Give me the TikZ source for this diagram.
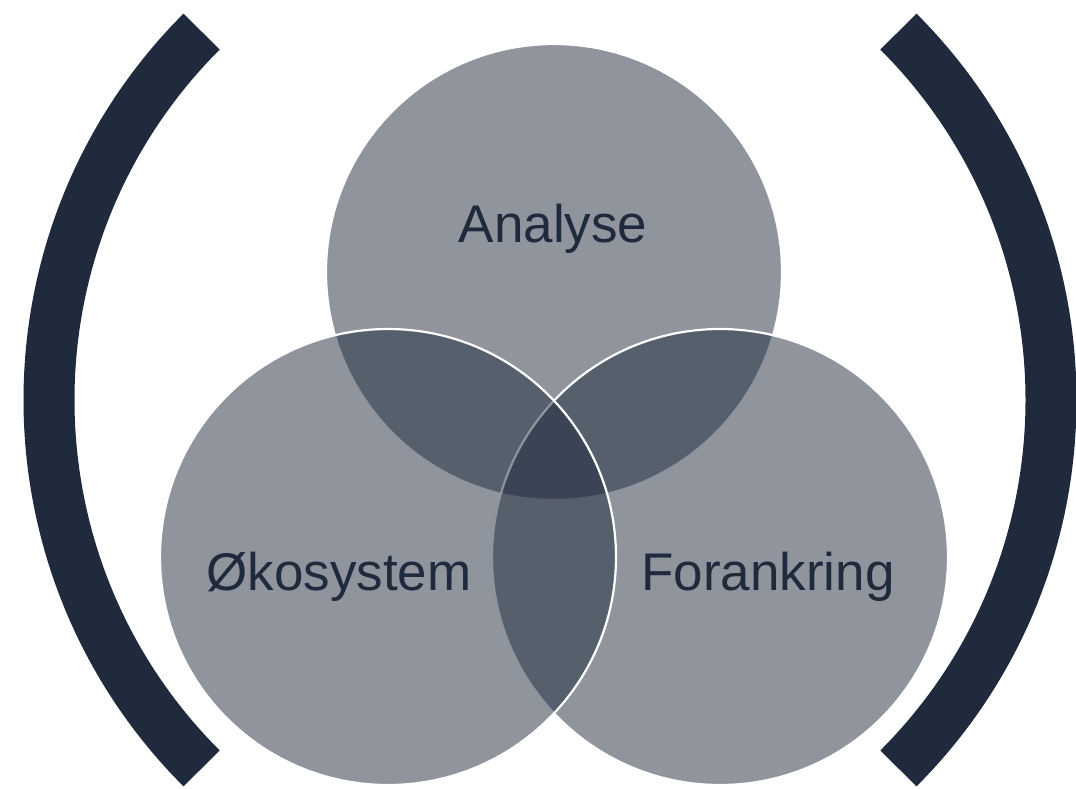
\documentclass[tikz,border=0pt]{standalone}
\usepackage{fontspec}
\setmainfont{Liberation Sans}
\definecolor{navy}{RGB}{31,42,60}
\begin{document}
\begin{tikzpicture}[x=1pt,y=-1pt,
  venn/.style={circle, draw=white, line width=2.2pt, fill=navy, fill opacity=0.5, draw opacity=1, minimum size=456pt, inner sep=0pt},
  label/.style={anchor=base, text=navy, font=\fontsize{53}{60}\selectfont, text opacity=1},
  bracket/.style={draw=navy, line width=51pt, line cap=butt}]
\useasboundingbox (0,0) rectangle (1076,788);
% brackets
\draw[bracket] (570,400) ++(135:521) arc[start angle=135,end angle=225,radius=521];
\draw[bracket] (530,400) ++(-45:521) arc[start angle=-45,end angle=45,radius=521];
% circles
\node[venn] (ctop) at (554,272) {};
\node[venn] (cright) at (720,557) {};
\node[venn] (cleft) at (388,557) {};
% labels
\node[label] (tana) at (553,242) {Analyse};
\node[label] (toko) at (339,590) {Økosystem};
\node[label] (tfor) at (768,590) {Forankring};
\end{tikzpicture}
\end{document}
